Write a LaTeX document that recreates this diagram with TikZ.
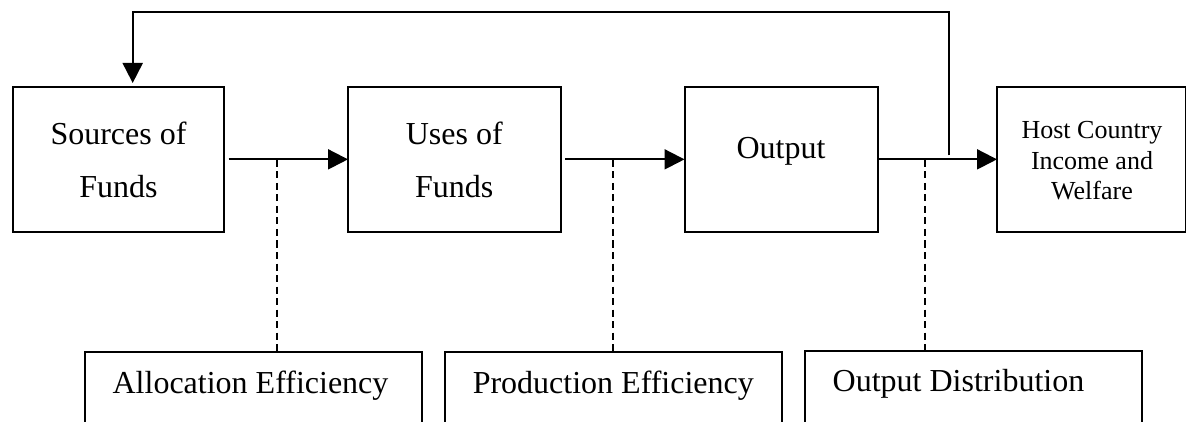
\documentclass[tikz,border=0pt]{standalone}
\usepackage{fontspec}
\setmainfont{Liberation Serif}
\usetikzlibrary{arrows.meta}
\tikzset{
  box/.style={draw, line width=2pt, rectangle, inner sep=0pt, outer sep=0pt},
  bigtext/.style={font=\fontsize{32}{53}\selectfont, inner sep=0pt, align=center},
  smalltext/.style={font=\fontsize{26}{30.5}\selectfont, inner sep=0pt, align=center},
  arr/.style={line width=2pt, -{Triangle[length=20pt, width=20pt]}},
  dashline/.style={line width=1.8pt, dash pattern=on 7pt off 4.5pt},
}
\begin{document}
\begin{tikzpicture}[x=1pt, y=-1pt]
\clip (0,0) rectangle (1186,422);
\fill[white] (0,0) rectangle (1186,422);
% top boxes
\node[box, minimum width=211.6pt, minimum height=144.7pt] (src)  at (118.5,159.35) {};
\node[box, minimum width=212.6pt, minimum height=144.7pt] (uses) at (454.3,159.35) {};
\node[box, minimum width=193pt,   minimum height=144.7pt] (out)  at (781,159.35) {};
\node[box, minimum width=188.5pt, minimum height=144.7pt] (host) at (1091.25,159.35) {};
% bottom boxes
\node[box, minimum width=337.1pt, minimum height=88.5pt] (alloc)   at (253.15,395.75) {};
\node[box, minimum width=337pt,   minimum height=88.5pt] (prod)    at (613,395.75) {};
\node[box, minimum width=336.5pt, minimum height=89.3pt] (outdist) at (973.25,395.35) {};
% texts
\node[bigtext] (srct)  at (118.5,159.8) {Sources of\\Funds};
\node[bigtext] (usest) at (454.3,159.8) {Uses of\\Funds};
\node[bigtext, anchor=base] (outt) at (781,159) {Output};
\node[smalltext] (hostt) at (1092,160.6) {Host Country\\Income and\\Welfare};
\node[bigtext, anchor=base] (allt)  at (250.5,393) {Allocation Efficiency};
\node[bigtext, anchor=base] (prodt) at (613.3,393.3) {Production Efficiency};
\node[bigtext, anchor=base] (odt)   at (958.5,391.7) {Output Distribution};
% main arrows
\draw[arr] ([xshift=4.2pt]src.east) -- (uses.west);
\draw[arr] ([xshift=4.4pt]uses.east) -- (out.west);
\draw[arr] ([xshift=1.5pt]out.east) -- (host.west);
% dashed links
\coordinate (d1) at (276.7,160);
\coordinate (d2) at (612.8,160);
\coordinate (d3) at (924.9,160);
\draw[dashline] (d1) -- (d1 |- alloc.north);
\draw[dashline] (d2) -- (d2 |- prod.north);
\draw[dashline] (d3) -- (d3 |- outdist.north);
% feedback
\coordinate (fb) at (949,155.5);
\coordinate (fbtop) at (132.7,11.7);
\coordinate (fbend) at (132.7,83);
\draw[arr] (fb) |- (fbtop) -- (fbend);
\end{tikzpicture}
\end{document}
